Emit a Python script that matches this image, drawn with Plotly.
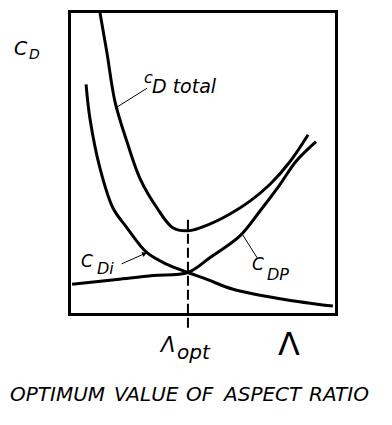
import plotly.graph_objects as go

# Aspect ratio (x) and drag coefficient (y) samples
lam_total = [1.10, 1.36, 1.67, 2.12, 2.61, 3.26, 3.86, 4.43, 5.27, 6.02, 6.78, 7.54, 8.30, 8.98]
cd_total = [10.0, 8.68, 7.03, 5.71, 4.49, 3.50, 2.84, 2.74, 2.97, 3.30, 3.73, 4.29, 5.05, 5.94]

lam_di = [0.57, 0.72, 1.10, 1.59, 2.12, 2.88, 3.64, 4.43, 5.15, 6.14, 8.03, 9.92]
cd_di = [7.62, 6.47, 4.82, 3.50, 2.84, 2.01, 1.62, 1.35, 1.12, 0.79, 0.46, 0.23]

lam_dp = [0.04, 1.74, 3.11, 4.43, 5.27, 6.40, 7.16, 7.92, 8.52, 9.28]
cd_dp = [0.96, 1.12, 1.25, 1.35, 1.85, 2.57, 3.40, 4.29, 5.05, 5.71]

lam_opt = 4.43

caption_words = ["OPTIMUM", "VALUE", "OF", "ASPECT", "RATIO"]

W, H = 392, 425
L, R, T, B = 71, 57, 10, 112
PW, PH = W - L - R, H - T - B


def px(x):
    return (x - L) / PW


def py(y):
    return (H - B - y) / PH


FONT = "DejaVu Sans"
line_style = dict(color="black", width=3)

fig = go.Figure()
for xs, ys in [(lam_total, cd_total), (lam_di, cd_di), (lam_dp, cd_dp)]:
    fig.add_trace(go.Scatter(x=xs, y=ys, mode="lines", line=line_style,
                             line_shape="spline", hoverinfo="skip", showlegend=False))

shapes = [
    dict(type="line", xref="x", yref="paper", x0=lam_opt, x1=lam_opt,
         y0=py(328), y1=py(215), line=dict(color="black", width=2, dash="10px,4px")),
    # leader lines
    dict(type="line", xref="paper", yref="paper", x0=px(147), y0=py(86), x1=px(117), y1=py(105),
         line=dict(color="black", width=1)),
    dict(type="line", xref="paper", yref="paper", x0=px(257), y0=py(257), x1=px(242), y1=py(233),
         line=dict(color="black", width=1)),
]

ann = []


def text(t, x, y, size, xanchor="left"):
    ann.append(dict(text=t, xref="paper", yref="paper", x=px(x), y=py(y), showarrow=False,
                    xanchor=xanchor, yanchor="middle", borderpad=0,
                    font=dict(family=FONT, size=size, color="black")))


# C_D axis label
text("<i>C</i>", 13, 45, 19)
text("<i>D</i>", 28, 51, 14)
# C_D total
text("<i>c</i>", 143, 75, 16)
text("<i>D total</i>", 151, 84, 19)
# C_Di
text("<i>C</i>", 80, 260, 17)
text("<i>Di</i>", 96, 268, 16)
# C_DP
text("<i>C</i>", 251, 264, 17)
text("<i>DP</i>", 266, 274, 16)
# Lambda opt
text("<i>Λ</i>", 158, 345, 21)
text("<i>opt</i>", 176, 352, 20)
# Lambda
text("Λ", 289, 344, 32, xanchor="center")

# caption words
cap_x = [57, 146, 200, 262, 339]
for w, cx in zip(caption_words, cap_x):
    text("<i>" + w + "</i>", cx, 395, 20, xanchor="center")

ann.append(dict(text="", xref="paper", yref="paper", x=px(147), y=py(252),
                ax=-27, ay=12, showarrow=True, arrowhead=2, arrowsize=1,
                arrowwidth=1, arrowcolor="black"))

fig.update_layout(
    width=W, height=H,
    margin=dict(l=L, r=R, t=T, b=B),
    paper_bgcolor="white", plot_bgcolor="white",
    shapes=shapes, annotations=ann,
    xaxis=dict(range=[0, 10], showgrid=False, zeroline=False, showticklabels=False,
               ticks="", showline=True, mirror=True, linecolor="black", linewidth=2.5),
    yaxis=dict(range=[0, 10], showgrid=False, zeroline=False, showticklabels=False,
               ticks="", showline=True, mirror=True, linecolor="black", linewidth=2.5),
)

fig.write_html("out.html", config={"displayModeBar": False},
               post_script="document.body.style.margin='0';document.body.style.overflow='hidden';")
